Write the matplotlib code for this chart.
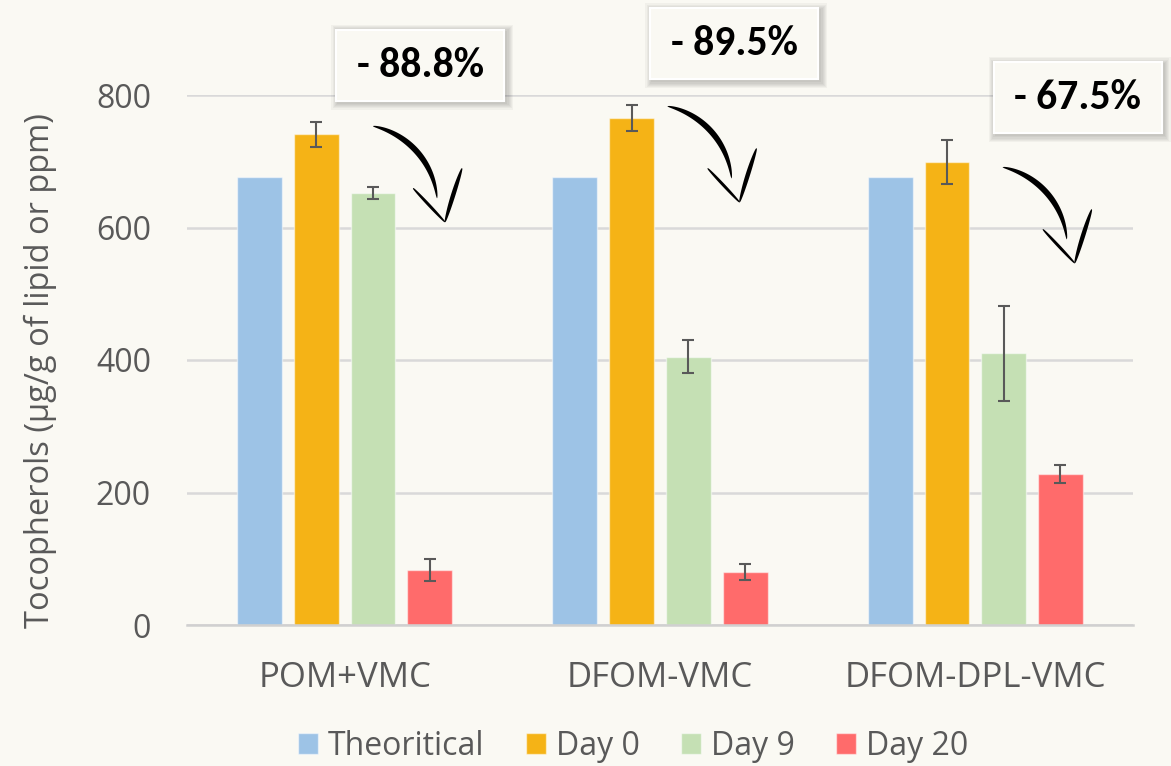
import numpy as np
import matplotlib
matplotlib.use("Agg")
import matplotlib.pyplot as plt
from matplotlib.patches import Polygon, Rectangle
from matplotlib.transforms import IdentityTransform

# data
groups = ["POM+VMC", "DFOM-VMC", "DFOM-DPL-VMC"]
series = ["Theoritical", "Day 0", "Day 9", "Day 20"]
theoretical = [676, 676, 676]
day0 = [741, 765, 699]
day9 = [652, 405, 410]
day20 = [83, 80, 228]
day0_err = [19, 20, 33]
day9_err = [9, 25, 72]
day20_err = [17, 12, 13]
losses = ["- 88.8%", "- 89.5%", "- 67.5%"]

colors = ["#9DC3E6", "#F5B316", "#C5E0B4", "#FF6B6B"]
bg = "#FAF9F3"
txt = "#595959"
plt.rcParams["font.family"] = ["Open Sans", "DejaVu Sans"]

fig = plt.figure(figsize=(11.71, 7.66), dpi=100, facecolor=bg)
ax = fig.add_axes([187 / 1171, 1 - 625 / 766, 946 / 1171, 530 / 766])
ax.set_facecolor(bg)

x = np.arange(len(groups))
step = 0.18
width = 0.142
values = [theoretical, day0, day9, day20]
errors = [None, day0_err, day9_err, day20_err]
for i, (vals, err) in enumerate(zip(values, errors)):
    pos = x + (i - 1.5) * step
    ax.bar(pos, vals, width, color=colors[i], edgecolor=(1, 1, 1, 0.5),
           linewidth=1, label=series[i], zorder=2)
    if err is not None:
        ax.errorbar(pos, vals, yerr=err, fmt="none", ecolor="#595959",
                    elinewidth=1.5, capsize=4.5, capthick=1.5, zorder=3)

ax.set_xlim(-0.5, 2.5)
ax.set_ylim(0, 800)
ax.set_yticks([0, 200, 400, 600, 800])
ax.grid(axis="y", color="#D9D9D9", linewidth=1.8, zorder=0)
ax.set_axisbelow(True)
for s in ["top", "right", "left"]:
    ax.spines[s].set_visible(False)
ax.spines["bottom"].set_color("#D0D0D0")
ax.spines["bottom"].set_linewidth(1.8)
ax.tick_params(axis="both", length=0)
ax.tick_params(axis="y", pad=26, labelsize=23, labelcolor=txt)
ax.tick_params(axis="x", pad=26, labelsize=25, labelcolor=txt)
ax.set_xticks(x)
ax.set_xticklabels(groups)
ax.set_ylabel("Tocopherols (µg/g of lipid or ppm)", fontsize=23.5, color=txt)
ax.yaxis.set_label_coords(-0.137, 0.481)

leg = ax.legend(loc="center", bbox_to_anchor=(0.5406, 0.026),
                bbox_transform=fig.transFigure, ncol=4, frameon=False,
                handlelength=0.63, handleheight=0.63, handletextpad=0.3,
                columnspacing=1.3, prop={"size": 23})
for t in leg.get_texts():
    t.set_color(txt)


# hand-drawn style arrow pieces, offsets in pixels (y pointing down)
def bezier(pts, n=60):
    t = np.linspace(0, 1, n)[:, None]
    p = [np.array(q, float) for q in pts]
    if len(p) == 3:
        return (1 - t) ** 2 * p[0] + 2 * (1 - t) * t * p[1] + t ** 2 * p[2]
    return ((1 - t) ** 3 * p[0] + 3 * (1 - t) ** 2 * t * p[1]
            + 3 * (1 - t) * t ** 2 * p[2] + t ** 3 * p[3])


def stroke(path, wmax, taper=0.6):
    d = np.gradient(path, axis=0)
    d /= np.linalg.norm(d, axis=1)[:, None]
    nrm = np.column_stack([-d[:, 1], d[:, 0]])
    t = np.linspace(0, 1, len(path))
    w = 0.4 + wmax * np.sin(np.pi * t) ** taper
    left = path + nrm * w[:, None] / 2
    right = path - nrm * w[:, None] / 2
    return np.vstack([left, right[::-1]])


def draw_arrow(x0, y0):
    ox, oy = ax.transData.transform((x0, y0))
    parts = [
        stroke(bezier([(0, 0), (30, 6), (60, 32), (64, 72)]), 5.5),
        stroke(bezier([(40, 62), (56, 79), (72, 96)]), 2.6, 0.4),
        stroke(bezier([(89, 42), (80, 68), (72, 96)]), 4.0, 0.5),
    ]
    for pts in parts:
        xy = np.column_stack([ox + pts[:, 0], oy - pts[:, 1]])
        fig.patches.append(Polygon(xy, closed=True, facecolor="black",
                                   edgecolor="none", transform=IdentityTransform(),
                                   figure=fig))


def draw_box(x0, y0, label, w=168, h=71):
    cx, cy = ax.transData.transform((x0, y0))
    # soft shadow
    for k in range(6):
        pad = 1 + k * 1.2
        fig.patches.append(Rectangle((cx - w / 2 - pad + 2, cy - h / 2 - pad - 2),
                                     w + 2 * pad, h + 2 * pad, facecolor="black",
                                     edgecolor="none", alpha=0.035,
                                     transform=IdentityTransform(), figure=fig))
    fig.patches.append(Rectangle((cx - w / 2, cy - h / 2), w, h, facecolor=bg,
                                 edgecolor="white", linewidth=1.5,
                                 transform=IdentityTransform(), figure=fig))
    fig.text(cx / fig.dpi / fig.get_figwidth(), cy / fig.dpi / fig.get_figheight(),
             label, ha="center", va="center", fontsize=30, fontweight="bold",
             family="Carlito", color="black")


box_pos = [(0.24, 845), (1.236, 877), (2.324, 796)]
arrow_pos = [(0.09, 753), (1.024, 783), (2.087, 691)]
for (bx, by), (axx, ayy), lab in zip(box_pos, arrow_pos, losses):
    draw_arrow(axx, ayy)
    draw_box(bx, by, lab)

fig.savefig("out.png", dpi=100, facecolor=bg)
